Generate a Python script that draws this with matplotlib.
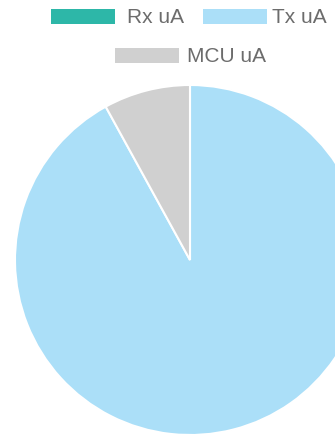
import matplotlib
matplotlib.use("Agg")
import matplotlib.pyplot as plt
from matplotlib.patches import Rectangle

W, H = 335, 440

labels = ["Rx uA", "Tx uA", "MCU uA"]
values = [0, 92, 8]
colors = ["#2db7a8", "#abdff8", "#d0d0d0"]

# legend layout in pixels from top-left: (box_x, row_y_top, text_x)
legend_pos = [(51, 8.5, 127), (203, 8.5, 272), (115, 47.5, 187)]
box_w, box_h = 64, 15

plt.rcParams["font.family"] = ["Liberation Sans", "DejaVu Sans"]

fig = plt.figure(figsize=(W / 100, H / 100), dpi=100)
ax = fig.add_axes([0, 0, 1, 1])

ax.pie(
    values,
    colors=colors,
    center=(190, H - 260),
    radius=175,
    startangle=90,
    counterclock=False,
    wedgeprops={"edgecolor": "white", "linewidth": 1.5},
    frame=True,
)
ax.set_xlim(0, W)
ax.set_ylim(0, H)
ax.set_aspect("equal")
ax.axis("off")

for (bx, by, tx), lab, col in zip(legend_pos, labels, colors):
    ax.add_patch(Rectangle((bx, H - by - box_h), box_w, box_h,
                           facecolor=col, edgecolor="none"))
    ax.text(tx, H - by - box_h + 1, lab, fontsize=15, color="#6c6c6c",
            va="baseline", ha="left")

fig.savefig("out.png", dpi=100)
